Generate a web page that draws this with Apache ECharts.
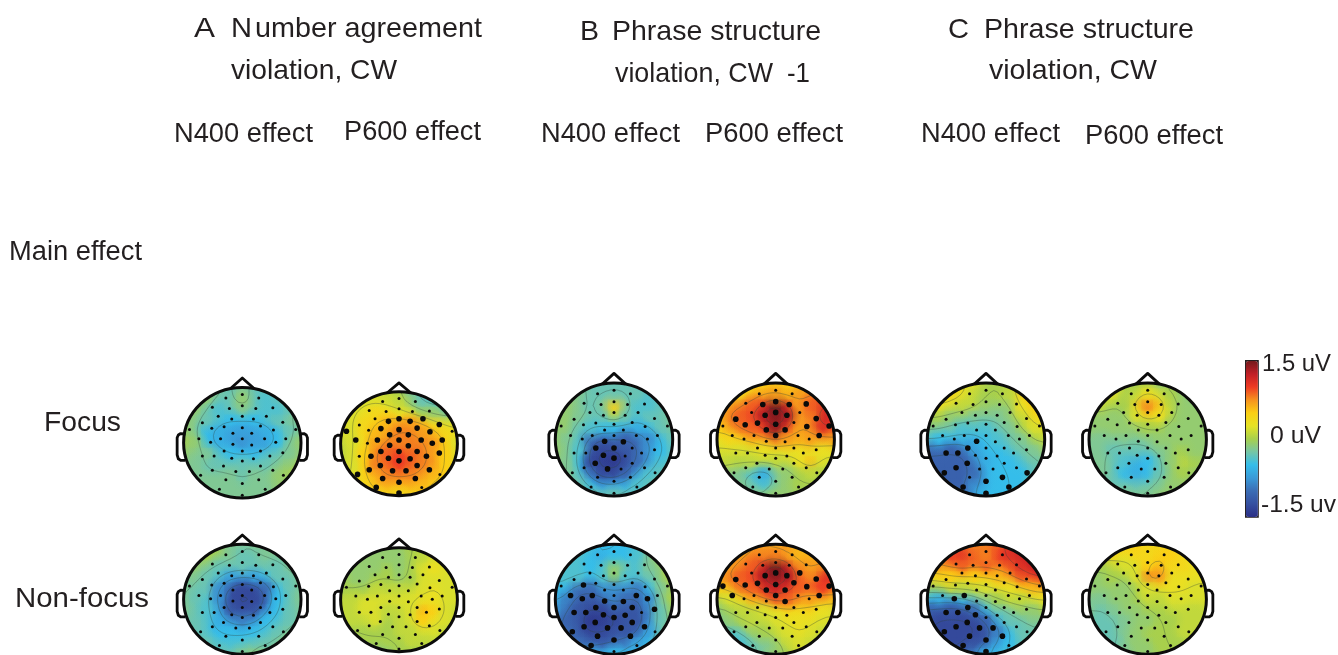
<!DOCTYPE html>
<html><head><meta charset="utf-8">
<style>html,body{margin:0;padding:0;background:#fff}#c{width:1338px;height:655px}</style>
<script src="https://cdn.jsdelivr.net/npm/echarts@6/dist/echarts.min.js"></script>
</head><body><div id="c"></div>
<script>
// Values in 0.1 uV, rows from the front of the head to the back, columns left to right
const focusA_N400=[
[-2,-2,-2,-2,-3,-2,-3,-3,-3,-2,-2],[-1,-1,-1,-3,-3,-1,-3,-4,-3,-2,-2],[-1,-1,-3,-4,-3,-2,-3,-4,-4,-3,-2],[-1,-2,-3,-4,-5,-5,-5,-4,-3,-2,-2],[-1,-2,-5,-6,-7,-7,-7,-6,-5,-3,-2],[0,-1,-5,-6,-7,-8,-7,-7,-5,-2,-1],[-1,-2,-2,-4,-5,-5,-5,-4,-3,-2,-1],[-2,-2,-3,-3,-3,-3,-3,-3,-2,-1,1],[-2,-2,-2,-2,-2,-3,-2,-2,-1,0,1],[-2,-2,-2,-2,-2,-2,-2,-2,-1,-1,0],[-2,-2,-2,-2,-2,-2,-2,-2,-2,-2,-2]];
const focusA_P600=[
[2,2,2,2,1,0,-2,-4,-4,-3,-1],[2,2,2,2,2,1,-1,-3,-4,-4,-2],[2,2,3,4,4,3,2,0,-1,-2,0],[2,2,4,5,6,7,7,6,4,2,2],[2,2,4,6,7,8,8,7,6,4,3],[1,2,4,7,8,8,8,8,7,5,2],[1,2,5,8,9,10,9,8,7,5,2],[1,2,5,8,9,10,9,8,7,5,2],[2,2,5,6,8,8,8,7,6,5,2],[2,3,4,6,6,6,6,6,5,3,2],[3,3,4,4,4,4,4,4,3,3,2]];
const focusB_N400=[
[-2,-2,-2,-3,-3,-3,-3,-3,-3,-3,-3],[-1,-1,-2,-3,-3,-3,-3,-3,-4,-3,-3],[-1,-1,-2,-3,-2,5,-2,-4,-4,-3,-3],[-1,-1,-2,-3,-3,1,-3,-4,-3,-3,-2],[-1,-1,-3,-4,-5,-5,-6,-6,-5,-3,-2],[-1,-2,-4,-10,-11,-11,-11,-10,-8,-5,-3],[-1,-2,-4,-12,-13,-13,-12,-10,-8,-5,-3],[-1,-2,-5,-13,-14,-14,-13,-10,-7,-4,-3],[-2,-2,-4,-9,-13,-13,-11,-7,-4,-3,-3],[-2,-2,-3,-5,-7,-7,-6,-4,-3,-3,-3],[-3,-3,-3,-3,-3,-3,-3,-3,-3,-3,-3]];
const focusB_P600=[
[4,4,4,4,5,5,5,5,5,4,4],[3,3,4,6,7,7,6,7,8,8,7],[6,7,8,9,11,15,11,7,9,11,10],[6,8,9,10,13,18,13,7,8,12,11],[5,7,8,9,10,14,10,7,8,11,10],[3,4,5,6,7,8,7,6,7,7,7],[2,2,2,2,3,3,3,3,3,3,3],[1,1,0,1,1,1,1,3,6,2,1],[-1,-2,-2,-4,-6,-2,-1,0,1,0,0],[-2,-2,-2,-3,-4,-2,-1,0,0,0,0],[-2,-2,-2,-2,-1,-1,-1,-1,-1,-1,-1]];
const focusC_N400=[
[4,4,4,3,2,0,0,0,5,5,5],[4,4,4,3,1,0,0,1,5,6,5],[3,3,2,1,1,-1,-1,-1,3,5,4],[0,0,-1,-1,-2,-2,-2,-1,1,4,4],[-2,-2,-3,-4,-4,-4,-3,-2,0,2,3],[-4,-5,-5,-6,-6,-5,-4,-3,-2,0,1],[-10,-10,-11,-10,-7,-5,-5,-4,-3,-2,-1],[-11,-11,-11,-11,-9,-6,-5,-5,-4,-3,-2],[-11,-11,-11,-11,-10,-6,-5,-5,-5,-3,-3],[-11,-11,-11,-11,-8,-6,-5,-5,-5,-3,-3],[-11,-11,-11,-10,-7,-5,-5,-5,-5,-3,-3]];
const focusC_P600=[
[3,3,3,0,0,0,-1,-1,-2,-2,-2],[3,3,2,0,1,3,2,0,-1,-2,-2],[1,1,0,0,4,8,5,1,-1,-1,-1],[-1,-1,-1,-1,2,4,3,0,-1,-1,-1],[-1,-1,-1,-1,-1,0,0,-1,-1,-1,-1],[-2,-2,-2,-2,-2,-2,-1,-1,-1,-1,-1],[-2,-2,-3,-3,-3,-3,-2,-1,0,-1,-1],[-2,-2,-3,-4,-6,-5,-3,-1,1,0,-1],[-2,-2,-3,-5,-6,-5,-3,-1,0,-1,-1],[-2,-2,-3,-3,-3,-3,-2,-1,-1,-1,-1],[-2,-2,-2,-2,-2,-2,-1,-1,-1,-1,-1]];
const nonfocusA_N400=[
[0,0,0,0,-2,-2,-2,-2,-2,-2,-2],[0,0,0,-1,-2,-3,-3,-2,-2,-2,-2],[-1,-1,-2,-3,-3,-3,-3,-3,-3,-2,-2],[-2,-2,-3,-4,-7,-7,-7,-5,-3,-3,-2],[-2,-3,-3,-8,-12,-13,-13,-10,-5,-3,-2],[-2,-3,-4,-8,-13,-13,-13,-11,-5,-3,-2],[-2,-3,-4,-7,-12,-13,-12,-8,-5,-3,-2],[-2,-3,-4,-6,-8,-9,-8,-5,-4,-3,-2],[-2,-3,-4,-5,-5,-5,-5,-4,-3,-2,-2],[-3,-3,-3,-4,-4,-4,-3,-3,-2,-1,0],[-3,-3,-3,-3,-3,-2,-1,-1,0,0,0]];
const nonfocusA_P600=[
[-1,-1,-1,-1,-1,-1,0,0,1,1,1],[-1,-1,-1,-1,-1,-1,0,1,2,2,2],[0,-1,-1,-1,0,-1,0,2,3,2,2],[0,-1,-1,0,0,-1,0,2,2,2,2],[0,0,0,1,1,1,1,2,3,2,2],[1,1,2,2,2,2,2,3,3,2,2],[1,1,2,2,1,1,2,6,5,2,1],[1,1,1,2,0,1,2,5,3,2,1],[-1,0,0,0,0,1,1,2,2,1,1],[-1,-1,0,0,0,0,1,1,1,1,1],[-1,-1,-1,-1,-1,0,0,0,0,0,0]];
const nonfocusB_N400=[
[-4,-4,-4,-4,-5,-5,-5,-4,-2,0,1],[-3,-4,-4,-5,-6,-5,-5,-4,-2,0,1],[-4,-4,-4,-5,-4,-1,-3,-4,-2,-1,1],[-4,-4,-4,-5,-4,0,-4,-4,-3,-1,1],[-5,-6,-10,-10,-8,-8,-8,-9,-5,-2,0],[-6,-9,-11,-12,-10,-9,-10,-11,-8,-2,0],[-8,-10,-12,-13,-13,-11,-12,-12,-9,-3,0],[-9,-11,-12,-14,-14,-13,-12,-12,-8,-3,-1],[-9,-10,-12,-13,-13,-12,-12,-11,-7,-3,-1],[-9,-10,-10,-11,-11,-10,-9,-7,-5,-3,-1],[-9,-9,-9,-7,-6,-5,-5,-5,-4,-3,-1]];
const nonfocusB_P600=[
[6,6,6,7,7,6,7,6,6,6,6],[6,6,7,8,8,8,7,6,6,6,6],[6,7,8,9,12,15,12,8,7,8,9],[7,8,9,10,13,18,13,9,8,11,11],[5,6,8,9,11,12,11,9,9,10,9],[1,2,4,6,8,9,9,7,7,7,6],[-1,0,1,1,2,3,4,4,4,3,2],[-3,-1,0,1,1,2,3,3,3,2,2],[-4,-4,-3,-1,0,1,2,3,2,1,1],[-4,-4,-4,-3,-2,-1,1,2,1,1,0],[-4,-4,-4,-3,-2,-1,0,1,1,0,0]];
const nonfocusC_N400=[
[9,9,9,9,8,8,9,10,11,12,12],[10,10,10,11,9,8,10,11,12,13,13],[7,7,8,9,8,9,8,9,11,12,12],[4,4,5,5,5,5,6,7,9,10,11],[-1,0,1,1,1,2,3,3,5,6,7],[-5,-6,-6,-6,-3,-2,0,1,1,2,3],[-11,-12,-12,-12,-10,-5,-3,-2,-1,-1,0],[-12,-13,-13,-13,-13,-11,-6,-3,-3,-2,-2],[-12,-13,-13,-13,-13,-12,-9,-5,-3,-3,-3],[-12,-13,-13,-13,-12,-11,-7,-5,-3,-3,-3],[-12,-12,-12,-11,-9,-6,-5,-4,-3,-3,-3]];
const nonfocusC_P600=[
[5,5,5,5,5,4,4,4,3,3,3],[5,5,4,3,4,4,5,5,4,3,3],[0,0,1,2,2,5,6,4,4,3,3],[-1,-1,0,0,2,8,7,3,3,3,3],[-1,-1,-1,-1,0,2,3,3,3,2,2],[-2,-2,-1,-1,0,1,1,2,2,2,2],[-2,-3,-2,-1,-1,0,0,1,1,1,1],[-3,-3,-3,-2,-1,-1,0,0,1,1,1],[-3,-3,-3,-2,-1,0,0,0,1,1,1],[-3,-3,-3,-2,-1,-1,0,0,0,1,1],[-3,-3,-2,-2,-1,-1,0,0,0,0,0]];

// Sensor sites on the unit head (x, y in hundredths of the radius)
const sensorSites=[[-28,81],[0,87],[28,81],[-51,64],[-22,62],[0,67],[23,62],[52,63],[-41,48],[-18,43],[0,48],[19,43],[41,48],[-68,36],[-52,26],[-31,29],[-16,17],[0,27],[16,17],[31,30],[53,23],[69,37],[91,24],[-90,24],[-74,7],[-54,1],[-37,7],[-16,-3],[0,7],[16,-4],[38,7],[57,1],[74,7],[-68,-24],[-48,-24],[-31,-15],[-18,-28],[0,-15],[0,-33],[19,-29],[31,-15],[47,-24],[69,-18],[-51,-50],[-32,-42],[-11,-52],[12,-52],[31,-42],[52,-50],[-71,-59],[-28,-67],[0,-74],[28,-67],[70,-59],[-39,-84],[39,-84],[0,-95]];
const sigFocusA_P600=[9,10,11,12,15,16,17,18,19,20,21,23,24,26,27,28,29,30,31,32,34,35,36,37,38,39,40,41,42,43,44,45,46,47,48,49,50,51,52,54,56];
const sigFocusB_N400=[27,35,37,29,36,38,44,45];
const sigFocusB_P600=[5,4,6,10,9,11,17,15,16,18,28,13,14,7,21,20,22,32];
const sigFocusC_N400=[27,35,34,33,44,43,49,54,51,52,55,56,53];
const sigNonfocusB_N400=[14,24,25,26,27,37,29,30,31,33,34,35,36,38,39,40,42,43,44,45,46,47,48,49,50,51,52,54];
const sigNonfocusB_P600=[10,9,11,17,13,15,14,23,16,18,28,24,29,12,21,20,19,22,32];
const sigNonfocusC_N400=[26,25,35,33,34,36,44,43,45,46,49,50,52,51,54,56];

const colorStops=['#2b2f86','#3650a0','#3b6db5','#3a9ad8','#35bdea','#76c6a6','#a8d04c','#e6e325','#fbcf14','#f6921e','#ee3a24','#c01f26','#741a1c'];
const contourLevels=[-12.5,-10,-7.5,-5,-2.5,0,2.5,5,7.5,10,12.5];
const nosePath=[[-.2,.98],[0,1.17],[.2,.98]];
const earLeft=[[-.97,.16],[-1.05,.165],[-1.09,.14],[-1.11,.09],[-1.11,-.22],[-1.09,-.29],[-1.05,-.32],[-.97,-.32]];

const heads=[
 {v:focusA_N400,sig:[],cx:242.3,cy:442.7,rx:58.7,ry:55.3},
 {v:focusA_P600,sig:sigFocusA_P600,cx:399,cy:443.7,rx:58.4,ry:52},
 {v:focusB_N400,sig:sigFocusB_N400,cx:614,cy:439.5,rx:58.7,ry:56.5},
 {v:focusB_P600,sig:sigFocusB_P600,cx:775.7,cy:439.5,rx:58.7,ry:56.5},
 {v:focusC_N400,sig:sigFocusC_N400,cx:986,cy:439.5,rx:58.7,ry:56.5},
 {v:focusC_P600,sig:[],cx:1147.7,cy:439.5,rx:58.7,ry:56.5},
 {v:nonfocusA_N400,sig:[],cx:242.3,cy:599.3,rx:58.7,ry:55},
 {v:nonfocusA_P600,sig:[],cx:399,cy:599.7,rx:58.4,ry:52},
 {v:nonfocusB_N400,sig:sigNonfocusB_N400,cx:614,cy:599.3,rx:58.7,ry:55},
 {v:nonfocusB_P600,sig:sigNonfocusB_P600,cx:775.7,cy:599.3,rx:58.7,ry:55},
 {v:nonfocusC_N400,sig:sigNonfocusC_N400,cx:986,cy:599.3,rx:58.7,ry:55},
 {v:nonfocusC_P600,sig:[],cx:1147.7,cy:599.3,rx:58.7,ry:55}
];

const labels=[
 ['A',194,215,29,28.5],['N',231,252,29,28.5],['umber agreement',255,482,29,28.5],['violation, CW',231,397,71,28.5],
 ['B',580,599,32,28.5],['Phrase structure',612,821,32,28.5],['violation, CW',615,773,74,28.5],['-1',787,810,74,28.5],
 ['C',948,969,30,28.5],['Phrase structure',984,1194,30,28.5],['violation, CW',989,1157,71,28.5],
 ['N400 effect',174,313,135,27],['P600 effect',344,481,133,27],['N400 effect',541,680,135,27],['P600 effect',705,843,135,27],['N400 effect',921,1060,135,27],['P600 effect',1085,1223,137,27],
 ['Main effect',9,142,253,27],['Focus',44,121,424,27],['Non-focus',15,149,600,27],
 ['1.5 uV',1262,1331,364,24],['0 uV',1270,1321,436,24],['-1.5 uv',1261,1336,505,24]
];

const chart=echarts.init(document.getElementById('c'),null,{renderer:'canvas'});
const mc=document.createElement('canvas').getContext('2d');
const FONT='"Liberation Sans",Arial,sans-serif';
const graphic=labels.map(([t,l,r,cy,s])=>{
  mc.font=s+'px '+FONT;
  return {type:'text',x:l,y:cy,scaleX:(r-l)/mc.measureText(t).width,silent:true,z:20,
    style:{text:t,font:s+'px '+FONT,fill:'#231f20',textAlign:'left',textVerticalAlign:'middle',textBaseline:'middle'}};
});

const grids=[],xAxes=[],yAxes=[],series=[],mapped=[];
const step=0.2;
// Contours are traced on a smoothed copy of a head's value table
function smoothed(v,f){
  const n=v.length,m=(n-1)*f+1;
  let g=[];
  for(let j=0;j<m;j++){g.push([]);for(let i=0;i<m;i++){
    const jj=Math.min(Math.floor(j/f),n-2),ii=Math.min(Math.floor(i/f),n-2),t=j/f-jj,s=i/f-ii;
    g[j].push((1-t)*((1-s)*v[jj][ii]+s*v[jj][ii+1])+t*((1-s)*v[jj+1][ii]+s*v[jj+1][ii+1]));
  }}
  for(let pass=0;pass<2;pass++){
    const o=g.map(r=>r.slice());
    for(let j=0;j<m;j++)for(let i=0;i<m;i++){
      let a=0,c=0;
      for(let dj=-f+1;dj<f;dj++)for(let di=-f+1;di<f;di++){
        const y=j+dj,x=i+di;
        if(y>=0&&y<m&&x>=0&&x<m){a+=o[y][x];c++;}
      }
      g[j][i]=a/c;
    }
  }
  return g;
}
function contourSegments(src){
  const F=3,v=smoothed(src,F),segs=[],n=v.length,st=step/F;
  const X=i=>-1+i*st,Y=j=>1-j*st;
  contourLevels.forEach(L0=>{
    const L=L0+0.013;
    for(let j=0;j<n-1;j++)for(let i=0;i<n-1;i++){
      const a=v[j][i],b=v[j][i+1],c=v[j+1][i+1],d=v[j+1][i];
      const p=[];
      if((a<L)!==(b<L))p.push([X(i)+st*(L-a)/(b-a),Y(j)]);
      if((b<L)!==(c<L))p.push([X(i+1),Y(j)-st*(L-b)/(c-b)]);
      if((c<L)!==(d<L))p.push([X(i+1)-st*(L-c)/(d-c),Y(j+1)]);
      if((d<L)!==(a<L))p.push([X(i),Y(j+1)+st*(L-d)/(a-d)]);
      if(p.length===2)segs.push([p[0][0],p[0][1],p[1][0],p[1][1]]);
      if(p.length===4){segs.push([p[0][0],p[0][1],p[1][0],p[1][1]]);segs.push([p[2][0],p[2][1],p[3][0],p[3][1]]);}
    }
  });
  return segs;
}
heads.forEach((h,k)=>{
  grids.push({left:h.cx-h.rx,top:h.cy-h.ry,width:2*h.rx,height:2*h.ry,show:false});
  xAxes.push({type:'value',gridIndex:k,min:-1,max:1,show:false});
  yAxes.push({type:'value',gridIndex:k,min:-1,max:1,show:false});
  const clip={type:'ellipse',shape:{cx:h.cx,cy:h.cy,rx:h.rx,ry:h.ry}};
  const cells=[];
  h.v.forEach((row,j)=>row.forEach((val,i)=>cells.push([-1+i*step,1-j*step,val,(i*5+j*7)%11])));
  const mixed=cells.slice().sort((a,b)=>a[3]-b[3]);
  const base={xAxisIndex:k,yAxisIndex:k,coordinateSystem:'cartesian2d',silent:true,animation:false,clip:false};
  mapped.push(series.length);
  series.push({...base,type:'custom',z:1,data:cells,encode:{x:0,y:1},renderItem:(p,api)=>{
    const c=api.coord([api.value(0),api.value(1)]),w=api.size([step,step]);
    return {type:'rect',shape:{x:c[0]-w[0]/2-.5,y:c[1]-w[1]/2-.5,width:w[0]+1,height:w[1]+1},style:{fill:api.visual('color')},clipPath:clip};
  }});
  mapped.push(series.length);
  series.push({...base,type:'custom',z:2,data:mixed,encode:{x:0,y:1},renderItem:(p,api)=>{
    const c=api.coord([api.value(0),api.value(1)]),w=api.size([step,step]),col=api.visual('color');
    const R=echarts.graphic.RadialGradient;
    return {type:'ellipse',shape:{cx:c[0],cy:c[1],rx:w[0]*1.3,ry:w[1]*1.3},
      style:{fill:new R(.5,.5,.5,[{offset:0,color:echarts.color.modifyAlpha(col,.8)},{offset:.4,color:echarts.color.modifyAlpha(col,.5)},{offset:1,color:echarts.color.modifyAlpha(col,0)}])},clipPath:clip};
  }});
  series.push({...base,type:'custom',z:3,data:contourSegments(h.v),encode:{x:0,y:1},renderItem:(p,api)=>{
    const a=api.coord([api.value(0),api.value(1)]),b=api.coord([api.value(2),api.value(3)]);
    return {type:'line',shape:{x1:a[0],y1:a[1],x2:b[0],y2:b[1]},style:{stroke:'rgba(50,70,60,.5)',lineWidth:.7},clipPath:clip};
  }});
  series.push({...base,type:'custom',z:4,data:[[0,0]],encode:{x:0,y:1},renderItem:(p,api)=>{
    const c=api.coord([0,0]),w=api.size([2,2]);
    return {type:'ellipse',shape:{cx:c[0],cy:c[1],rx:w[0]/2,ry:w[1]/2},style:{fill:'none',stroke:'#0b0b0b',lineWidth:3}};
  }});
  const pathS=path=>({...base,type:'custom',z:4,data:[[0,0]],encode:{x:0,y:1},renderItem:(p,api)=>({
    type:'polyline',shape:{points:path.map(q=>api.coord(q))},style:{fill:'none',stroke:'#0b0b0b',lineWidth:2.8,lineJoin:'round'}
  })});
  series.push(pathS(nosePath));
  series.push(pathS(earLeft));
  series.push(pathS(earLeft.map(q=>[-q[0],q[1]])));
  const sigSet=new Set(h.sig);
  series.push({...base,type:'scatter',z:5,data:sensorSites.map((s,i)=>[s[0]/100,s[1]/100,sigSet.has(i)?1:0]),
    symbolSize:d=>d[2]?5.6:3,itemStyle:{color:'#0a0a0a',opacity:1}});
});
chart.setOption({
  animation:false,backgroundColor:'#fff',graphic:{elements:graphic},
  grid:grids,xAxis:xAxes,yAxis:yAxes,series,
  visualMap:{type:'continuous',min:-15,max:15,dimension:2,seriesIndex:mapped,calculable:false,realtime:false,
    left:1245,top:360,itemWidth:12,itemHeight:156,padding:0,text:null,showLabel:false,
    borderColor:'#231f20',borderWidth:1.8,inRange:{color:colorStops},textStyle:{color:'transparent',fontSize:0}},
  tooltip:{show:false}
});
</script></body></html>
